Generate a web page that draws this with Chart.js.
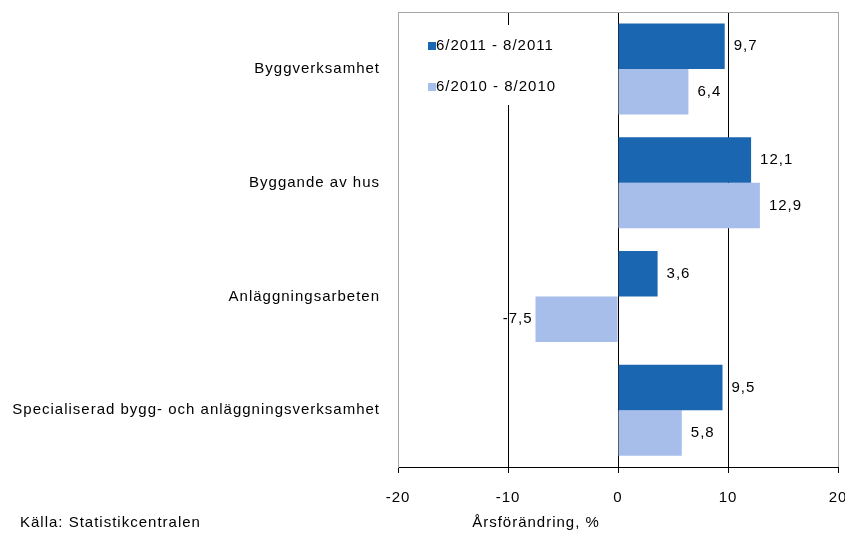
<!DOCTYPE html>
<html lang="sv">
<head>
  <meta charset="UTF-8">
  <title>Årsförändring</title>
  <style>
    body { margin: 0; background: #fff; }
    #wrap { width: 845px; height: 535px; }
  </style>
</head>
<body>

<div id="wrap">
  <canvas id="myChart" width="845" height="535"></canvas>
</div>

<script src="https://cdn.jsdelivr.net/npm/chart.js"></script>

<script>
  const categories = ['Byggverksamhet', 'Byggande av hus', 'Anläggningsarbeten', 'Specialiserad bygg- och anläggningsverksamhet'];
  const seriesNames = ['6/2011 - 8/2011', '6/2010 - 8/2010'];
  const values2011 = [9.7, 12.1, 3.6, 9.5];
  const values2010 = [6.4, 12.9, -7.5, 5.8];
  const xTicks = [-20, -10, 0, 10, 20];

  const darkBlue = 'rgb(26, 102, 176)';
  const lightBlue = 'rgb(168, 190, 234)';
  const frameGray = '#a6a6a6';
  const FONT = 'Liberation Sans, Arial, sans-serif';

  Chart.defaults.font.family = FONT;
  Chart.defaults.font.size = 15;
  Chart.defaults.color = '#000';

  // letter spacing like the original rendering
  const spacing = {
    id: 'spacing',
    beforeDraw(chart) { chart.ctx.letterSpacing = '1px'; }
  };

  // gray top edge of the plot frame
  const frame = {
    id: 'frame',
    beforeDatasetsDraw(chart) {
      const { ctx, chartArea: a } = chart;
      ctx.save();
      ctx.strokeStyle = frameGray;
      ctx.lineWidth = 1;
      ctx.beginPath();
      ctx.moveTo(a.left, a.top + 0.5);
      ctx.lineTo(a.right, a.top + 0.5);
      ctx.stroke();
      ctx.restore();
    }
  };

  // value labels next to the bar ends
  const barLabels = {
    id: 'barLabels',
    afterDatasetsDraw(chart) {
      const ctx = chart.ctx;
      ctx.save();
      ctx.font = '15px ' + FONT;
      ctx.fillStyle = '#000';
      ctx.textBaseline = 'middle';
      chart.data.datasets.forEach((ds, i) => {
        chart.getDatasetMeta(i).data.forEach((bar, j) => {
          const v = ds.data[j];
          const txt = String(v).replace('.', ',');
          if (v >= 0) {
            ctx.textAlign = 'left';
            ctx.fillText(txt, bar.x + 9, bar.y);
          } else {
            ctx.textAlign = 'right';
            ctx.fillText(txt, bar.x - 3, bar.y);
          }
        });
      });
      ctx.restore();
    }
  };

  // legend inside the plot, top left, on a white box
  const innerLegend = {
    id: 'innerLegend',
    afterDatasetsDraw(chart) {
      const { ctx, chartArea: a } = chart;
      const zeroX = chart.scales.x.getPixelForValue(0);
      ctx.save();
      ctx.fillStyle = '#fff';
      ctx.fillRect(a.left + 20, a.top + 13, zeroX - a.left - 30, 80);
      ctx.font = '15px ' + FONT;
      ctx.textBaseline = 'middle';
      ctx.textAlign = 'left';
      chart.data.datasets.forEach((ds, i) => {
        const y = a.top + 34 + i * 41;
        ctx.fillStyle = ds.backgroundColor;
        ctx.fillRect(a.left + 30, y - 4, 8, 8);
        ctx.fillStyle = '#000';
        ctx.fillText(ds.label, a.left + 38, y);
      });
      ctx.restore();
    }
  };

  // axis title and source line
  const notes = {
    id: 'notes',
    afterDraw(chart) {
      const ctx = chart.ctx;
      ctx.save();
      ctx.font = '15px ' + FONT;
      ctx.fillStyle = '#000';
      ctx.textBaseline = 'middle';
      ctx.textAlign = 'center';
      ctx.fillText('Årsförändring, %', 536, 523);
      ctx.textAlign = 'left';
      ctx.fillText('Källa: Statistikcentralen', 20, 523);
      ctx.restore();
    }
  };

  const ctx = document.getElementById('myChart').getContext('2d');
  const myChart = new Chart(ctx, {
    type: 'bar',
    data: {
      labels: categories,
      datasets: [
        { label: seriesNames[0], data: values2011, backgroundColor: darkBlue },
        { label: seriesNames[1], data: values2010, backgroundColor: lightBlue }
      ]
    },
    options: {
      indexAxis: 'y',
      responsive: false,
      animation: false,
      devicePixelRatio: 1,
      layout: { padding: { left: 0, top: 12, right: 7, bottom: 0 } },
      datasets: { bar: { barPercentage: 1, categoryPercentage: 0.8 } },
      plugins: { legend: { display: false }, tooltip: { enabled: false } },
      scales: {
        x: {
          min: xTicks[0],
          max: xTicks[xTicks.length - 1],
          afterBuildTicks(scale) { scale.ticks = xTicks.map(v => ({ value: v })); },
          afterFit(scale) {
            scale.height = 68;
            scale.paddingLeft = 0;
            scale.paddingRight = 0;
          },
          ticks: { padding: 16, color: '#000', font: { size: 15 } },
          grid: {
            color: c => (c.tick && Math.abs(c.tick.value) === 20) ? frameGray : '#000',
            tickColor: '#000',
            tickLength: 6,
            lineWidth: 1
          },
          border: { color: '#000', width: 1 }
        },
        y: {
          afterFit(scale) {
            scale.width = 398;
            scale.paddingTop = 0;
            scale.paddingBottom = 0;
          },
          ticks: { padding: 10, color: '#000', font: { size: 15 } },
          grid: { display: false },
          border: { color: frameGray, width: 1 }
        }
      }
    },
    plugins: [spacing, frame, barLabels, innerLegend, notes]
  });
</script>
</body>
</html>
